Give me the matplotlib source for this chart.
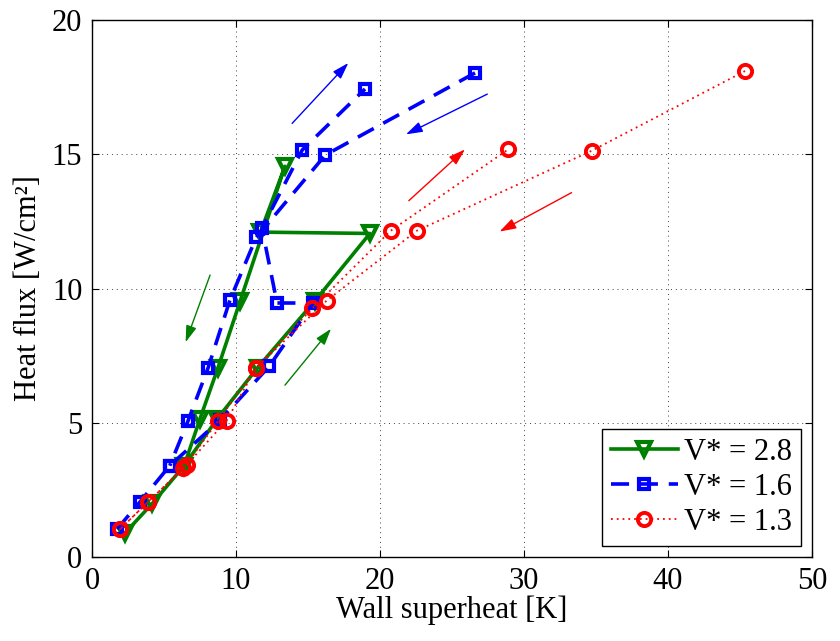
import numpy as np
import matplotlib.pyplot as plt

plt.rcParams['font.family'] = ['Liberation Serif', 'DejaVu Serif']

nan = np.nan

# V* = 2.8 (heating up, then cooling down)
x_28 = [2.3, 4.2, 6.4, 8.7, 11.5, 15.5, 19.3, 11.7, 13.4, 10.3, 8.75, 7.5, 6.4]
q_28 = [0.9, 2.0, 3.4, 5.15, 7.05, 9.55, 12.05, 12.1, 14.55, 9.55, 7.05, 5.15, 3.4]

# V* = 1.6 (two branches separated by nan)
x_16 = [1.74, 3.33, 5.4, 8.9, 12.3, 15.35, 12.85, 11.8, 14.6, 18.96, nan,
        26.6, 16.2, 11.4, 9.58, 8.06, 6.67, 5.4]
q_16 = [1.04, 2.05, 3.4, 5.1, 7.1, 9.46, 9.46, 12.25, 15.16, 17.43, nan,
        18.03, 14.97, 11.9, 9.57, 7.04, 5.07, 3.4]

# V* = 1.3
x_13 = [1.94, 3.9, 6.34, 8.77, 11.4, 15.3, 20.74, 28.9, nan,
        45.35, 34.7, 22.55, 16.3, 11.4, 9.35, 6.57, 3.9, 1.94]
q_13 = [1.03, 2.06, 3.3, 5.08, 7.05, 9.26, 12.15, 15.18, nan,
        18.1, 15.13, 12.15, 9.55, 7.05, 5.08, 3.43, 2.06, 1.03]

# direction arrows: (x_start, y_start, x_end, y_end, colour)
arrows = [
    (8.2, 10.5, 6.5, 8.0, 'green'),
    (13.4, 6.4, 16.6, 8.5, 'green'),
    (13.9, 16.15, 17.8, 18.4, 'blue'),
    (27.45, 17.24, 21.8, 15.74, 'blue'),
    (22.0, 13.27, 25.9, 15.18, 'red'),
    (33.3, 13.57, 28.3, 12.12, 'red'),
]

fig = plt.figure(figsize=(8.4, 6.41), dpi=100)
ax = fig.add_axes([92 / 840, 1 - 557 / 641, 720 / 840, 537 / 641])

ax.plot(x_28, q_28, '-', color='green', lw=2.6, marker='v', ms=9.5,
        mfc='none', mew=3, label='V* = 2.8')
ax.plot(x_16, q_16, '--', color='blue', lw=2.6, dashes=(5, 3), marker='s',
        ms=7, mfc='none', mew=3, label='V* = 1.6')
ax.plot(x_13, q_13, color='red', lw=1.3, linestyle=(0, (1, 2.2)), marker='o',
        ms=9.5, mfc='none', mew=2.8, label='V* = 1.3')

for x0, y0, x1, y1, c in arrows:
    ax.annotate('', xy=(x1, y1), xytext=(x0, y0),
                arrowprops=dict(arrowstyle='-|>,head_length=1.0,head_width=0.32',
                                color=c, lw=1.0, shrinkA=0, shrinkB=0))

ax.set_xlim(0, 50)
ax.set_ylim(0, 20)
ax.set_xticks(range(0, 51, 10))
ax.set_yticks(range(0, 21, 5))
ax.tick_params(direction='in', top=True, right=True, labelsize=22,
               length=5, width=0.8, pad=7)
ax.grid(True, color='0.25', linestyle=(0, (1, 4)), lw=0.7)
for s in ax.spines.values():
    s.set_linewidth(1.0)

ax.set_xlabel('Wall superheat [K]', fontsize=22, labelpad=0)
ax.set_ylabel('Heat flux [W/cm²]', fontsize=22, labelpad=6)

leg = ax.legend(loc='lower right', fontsize=22, fancybox=False, framealpha=1,
                edgecolor='black', handlelength=2.2, borderaxespad=0.35,
                handletextpad=0.2, labelspacing=0.2, borderpad=0.3)
leg.get_frame().set_linewidth(1.0)

fig.savefig('out.png', dpi=100)
